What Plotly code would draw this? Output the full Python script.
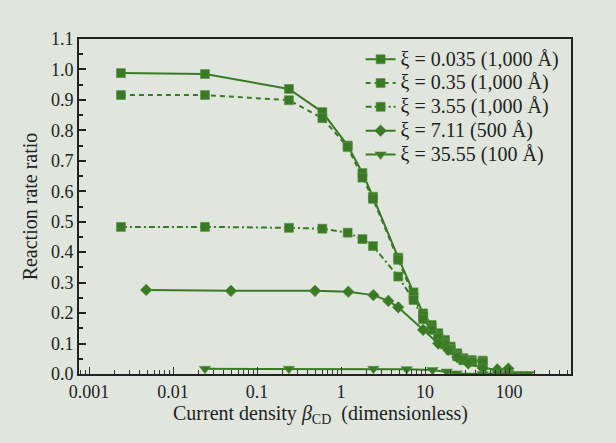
import plotly.graph_objects as go

# ---- data ----
x1 = [0.0024, 0.024, 0.24, 0.6, 1.2, 1.8, 2.4, 4.8, 7.3, 9.5, 12, 14.4, 17.3, 20.2, 24.2, 28.6, 35.9, 48.6]
y1 = [0.988, 0.985, 0.936, 0.86, 0.75, 0.66, 0.582, 0.382, 0.268, 0.199, 0.161, 0.134, 0.112, 0.09, 0.068, 0.052, 0.046, 0.044]

x2 = [0.0024, 0.024, 0.24, 0.6, 1.2, 1.8, 2.4, 4.8, 7.3, 9.5, 12, 14.4, 17.3, 20.2, 24.2, 28.6, 35.9, 48.6]
y2 = [0.916, 0.916, 0.899, 0.84, 0.745, 0.645, 0.575, 0.375, 0.255, 0.19, 0.152, 0.125, 0.103, 0.082, 0.062, 0.048, 0.042, 0.04]

x3 = [0.0024, 0.024, 0.24, 0.6, 1.2, 1.8, 2.4, 4.8, 7.3, 9.5, 12, 14.4, 17.3, 20.2, 24.2, 28.6, 35.9, 48.6]
y3 = [0.483, 0.483, 0.48, 0.477, 0.464, 0.443, 0.42, 0.32, 0.243, 0.18, 0.145, 0.118, 0.097, 0.078, 0.058, 0.045, 0.04, 0.038]

x4 = [0.0048, 0.049, 0.49, 1.22, 2.43, 3.66, 4.8, 9.5, 14.4, 18.9, 24.2, 32.7, 49, 72.6, 98]
y4 = [0.276, 0.273, 0.273, 0.27, 0.259, 0.24, 0.219, 0.145, 0.1, 0.079, 0.055, 0.035, 0.019, 0.015, 0.018]

x5 = [0.024, 0.24, 2.43, 6.05, 12.3, 18.1, 23.8, 48.6, 72.6, 98, 123, 148, 172]
y5 = [0.017, 0.017, 0.017, 0.016, 0.013, 0.008, 0.002, 0.0, 0.003, 0.003, 0.0, 0.0, 0.0]

names = ["ξ = 0.035 (1,000 Å)", "ξ = 0.35 (1,000 Å)", "ξ = 3.55 (1,000 Å)",
         "ξ = 7.11 (500 Å)", "ξ = 35.55 (100 Å)"]

x_title = "Current density <i>β</i><sub>CD</sub>  (dimensionless)"
y_title = "Reaction rate ratio"

GREEN = "#3a7a24"
BG = "#e0e6dd"
FONT = "Liberation Serif"
TICK_FS = 18
TEXT_FS = 20

fig = go.Figure()
specs = [
    (x1, y1, "solid", "square", 9),
    (x2, y2, "5px,4px", "square", 9),
    (x3, y3, "6px,3px,2px,3px", "square", 9),
    (x4, y4, "solid", "diamond", 9),
    (x5, y5, "solid", "triangle-down", 10),
]
for (xs, ys, dash, sym, sz), nm in zip(specs, names):
    fig.add_trace(go.Scatter(
        x=xs, y=ys, name=f'<span style="font-size:{TEXT_FS}px">{nm}</span>',
        mode="lines+markers",
        line=dict(color=GREEN, width=2, dash=dash),
        marker=dict(symbol=sym, size=sz, color=GREEN,
                    line=dict(color="#5d9448", width=0.6)),
    ))

fig.add_annotation(text=x_title, xref="paper", yref="paper", x=0.49, y=-0.122,
                   xanchor="center", yanchor="middle", showarrow=False,
                   font=dict(size=TEXT_FS, family=FONT, color="#222"))

fig.update_layout(
    width=616, height=443,
    margin=dict(l=79, r=45, t=39, b=69),
    paper_bgcolor=BG, plot_bgcolor=BG,
    font=dict(family=FONT, size=TICK_FS, color="#222"),
    showlegend=True,
    legend=dict(x=0.985, y=0.99, xanchor="right", yanchor="top",
                bgcolor="rgba(0,0,0,0)", font=dict(size=16, family=FONT, color="#222"),
                tracegroupgap=0, itemwidth=30),
    xaxis=dict(
        type="log", range=[-3.119, 2.738], automargin=False,
        tickvals=[0.001, 0.01, 0.1, 1, 10, 100],
        ticktext=["0.001", "0.01", "0.1", "1", "10", "100"],
        ticks="inside", ticklen=7, tickwidth=1, tickcolor="#333",
        minor=dict(ticks="inside", ticklen=4, tickwidth=1, tickcolor="#333", dtick="D1", showgrid=False),
        showline=True, linewidth=2, linecolor="#222", mirror=True,
        showgrid=False, zeroline=False,
    ),
    yaxis=dict(
        range=[0, 1.1], dtick=0.1, tickformat=".1f", automargin=False,
        ticks="inside", ticklen=7, tickwidth=2, tickcolor="#222",
        minor=dict(ticks="inside", ticklen=4, tickwidth=2, tickcolor="#222", dtick=0.05, showgrid=False),
        showline=True, linewidth=2, linecolor="#222", mirror=True,
        showgrid=False, zeroline=False,
        title=dict(text=y_title, standoff=8, font=dict(size=TEXT_FS, family=FONT)),
    ),
)

fig.write_html(
    "out.html",
    config={"displayModeBar": False},
    post_script="document.body.style.margin='0';document.body.style.background='%s';" % BG,
)
